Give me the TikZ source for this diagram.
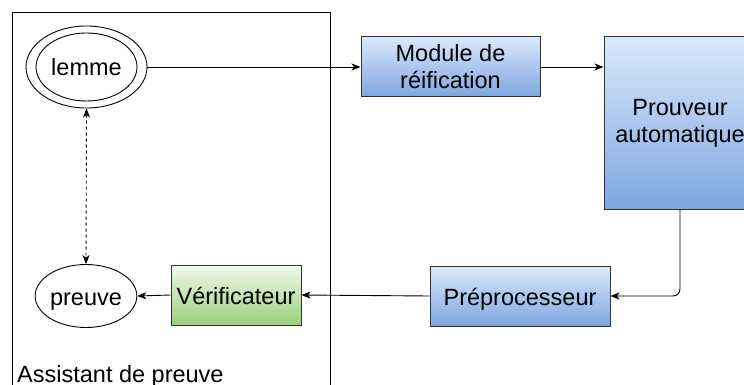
\documentclass[tikz,border=0pt]{standalone}
\usepackage{fontspec}
\setmainfont{Liberation Sans}
\usetikzlibrary{arrows.meta,shapes.geometric}
\definecolor{bluetop}{HTML}{DAE8FC}
\definecolor{bluebot}{HTML}{7EA6E0}
\definecolor{greentop}{HTML}{F2F9EE}
\definecolor{greenbot}{HTML}{97D077}
\definecolor{edge}{HTML}{333333}
\tikzset{
  lbl/.style={font=\fontsize{23.5}{27}\selectfont, align=center, inner sep=0pt},
  oneline/.style={text height=18pt, text depth=0pt},
  bluebox/.style={lbl, rectangle, draw=edge, line width=1pt, top color=bluetop, bottom color=bluebot},
  greenbox/.style={lbl, rectangle, draw=edge, line width=1pt, top color=greentop, bottom color=greenbot},
  oval/.style={lbl, oneline, ellipse, draw, line width=0.9pt},
  conn/.style={line width=0.9pt, -{Stealth[length=9pt,width=7pt,inset=2.5pt]}},
}
\begin{document}
\begin{tikzpicture}[x=1pt,y=-1pt]
\clip (0,0) rectangle (744,385);
\fill[white] (0,0) rectangle (744,385);
% container
\draw[line width=0.9pt] (12,400) -- (12,12) -- (330,12) -- (330,400);
\node[lbl, anchor=base west] (asst) at (17,382) {Assistant de preuve};
% nodes
\node[oval, minimum width=121pt, minimum height=82pt] (lemme) at (86.5,67) {lemme};
\draw[line width=0.9pt] (lemme.center) ellipse [x radius=50.5, y radius=34];
\node[oval, minimum width=99pt, minimum height=63pt] (preuve) at (86,296) {preuve};
\node[greenbox, oneline, minimum width=130pt, minimum height=60pt] (verif) at (236,295) {Vérificateur};
\node[bluebox, minimum width=179pt, minimum height=60pt] (mod) at (450.5,67) {Module de\\réification};
\node[bluebox, minimum width=152pt, minimum height=172pt] (prouv) at (680,123) {Prouveur\\automatique};
\node[bluebox, oneline, minimum width=180pt, minimum height=60pt] (prep) at (520,296) {Préprocesseur};
% connectors
\draw[conn] (lemme.east) -- (mod.west);
\draw[conn] (mod.east) -- (prouv.west |- mod.east);
\draw[conn, rounded corners=7pt] (prouv.south) |- (prep.east);
\draw[conn] (prep.west) -- (verif.east);
\draw[conn] (verif.west) -- (preuve.east);
\draw[line width=0.9pt, dash pattern=on 3pt off 3pt,
  {Stealth[length=9pt,width=7pt,inset=2.5pt]}-{Stealth[length=9pt,width=7pt,inset=2.5pt]}]
  (lemme.south) -- (preuve.north);
\end{tikzpicture}
\end{document}
